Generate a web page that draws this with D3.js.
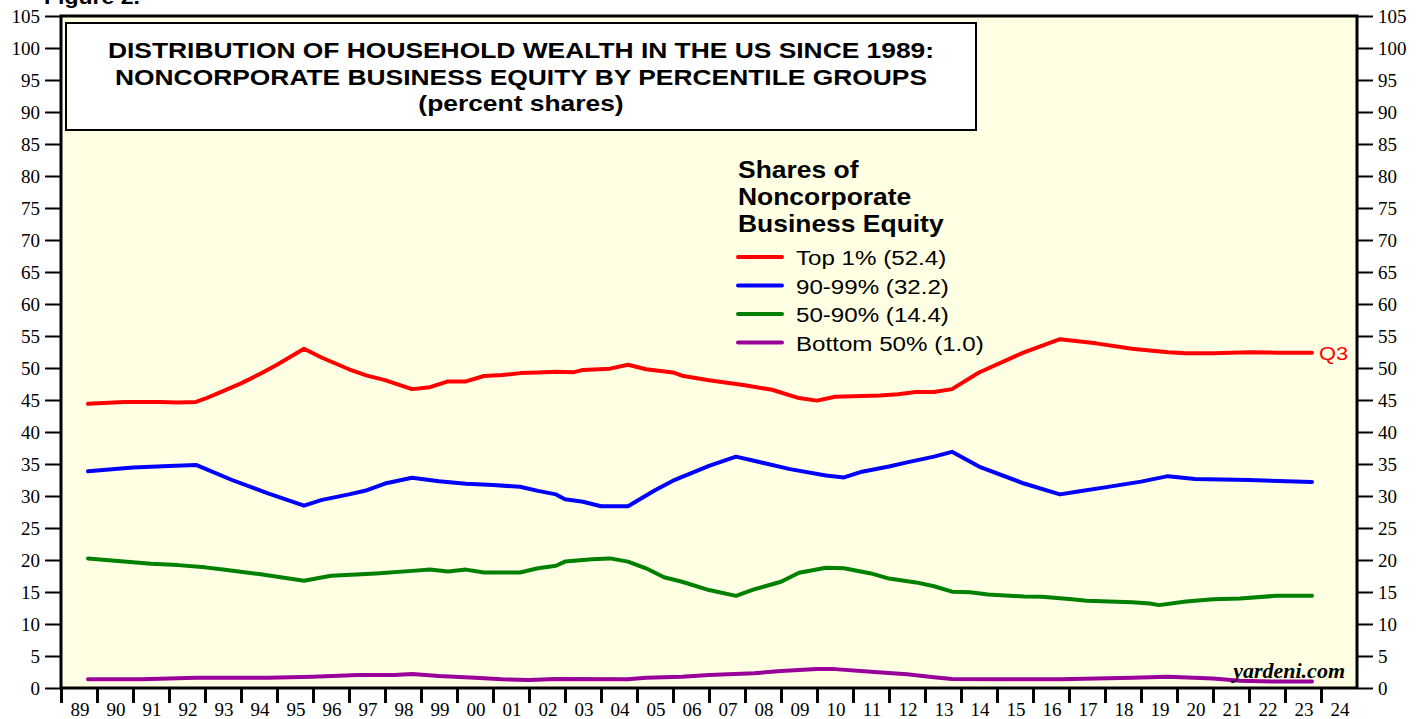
<!DOCTYPE html>
<html>
<head>
<meta charset="utf-8">
<script src="https://cdn.jsdelivr.net/npm/d3@7"></script>
<style>
  body { margin: 0; background: #ffffff; }
  svg { display: block; }
</style>
</head>
<body>
<div id="chart"></div>
<script>
// values, [decimal year, percent share]
var top1Data = [
  [1989.75, 44.4], [1990.75, 44.7], [1991.75, 44.7], [1992.25, 44.6], [1992.75, 44.7],
  [1993.0, 45.2], [1993.5, 46.4], [1994.0, 47.6], [1994.5, 49.0], [1995.0, 50.5],
  [1995.75, 53.0], [1996.25, 51.6], [1997.0, 49.8], [1997.5, 48.8], [1998.0, 48.1],
  [1998.75, 46.7], [1999.25, 47.0], [1999.75, 47.9], [2000.25, 47.9], [2000.75, 48.75],
  [2001.25, 48.9], [2001.75, 49.2], [2002.25, 49.3], [2002.75, 49.4], [2003.25, 49.35],
  [2003.5, 49.7], [2004.25, 49.9], [2004.75, 50.5], [2005.25, 49.8], [2006.0, 49.3],
  [2006.25, 48.8], [2007.0, 48.1], [2007.75, 47.5], [2008.0, 47.3], [2008.75, 46.6],
  [2009.5, 45.3], [2010.0, 44.9], [2010.5, 45.5], [2011.75, 45.7], [2012.25, 45.9],
  [2012.75, 46.25], [2013.25, 46.25], [2013.75, 46.7], [2014.5, 49.3], [2015.75, 52.45],
  [2016.75, 54.5], [2017.75, 53.85], [2018.75, 53.0], [2019.75, 52.45], [2020.25, 52.3],
  [2021.0, 52.3], [2022.0, 52.45], [2022.75, 52.4], [2023.75, 52.4]
];

var p90to99Data = [
  [1989.75, 33.85], [1991.0, 34.45], [1992.0, 34.7], [1992.75, 34.85], [1993.75, 32.5],
  [1994.75, 30.4], [1995.75, 28.5], [1996.25, 29.4], [1997.0, 30.25], [1997.5, 30.9],
  [1998.0, 31.95], [1998.75, 32.85], [1999.5, 32.3], [2000.25, 31.9], [2001.0, 31.7],
  [2001.75, 31.45], [2002.25, 30.8], [2002.75, 30.25], [2003.0, 29.5], [2003.5, 29.1],
  [2004.0, 28.4], [2004.75, 28.4], [2005.5, 30.9], [2006.0, 32.4], [2007.0, 34.7],
  [2007.75, 36.15], [2008.25, 35.5], [2009.25, 34.2], [2010.25, 33.2], [2010.75, 32.9],
  [2011.25, 33.8], [2012.0, 34.6], [2012.5, 35.25], [2013.25, 36.15], [2013.75, 36.9],
  [2014.5, 34.6], [2015.75, 31.95], [2016.75, 30.25], [2017.25, 30.7], [2018.0, 31.35],
  [2019.0, 32.25], [2019.75, 33.1], [2020.5, 32.65], [2022.0, 32.5], [2023.75, 32.2]
];

var p50to90Data = [
  [1989.75, 20.25], [1990.75, 19.75], [1991.5, 19.4], [1992.25, 19.2], [1993.0, 18.85],
  [1993.5, 18.5], [1994.5, 17.8], [1995.75, 16.75], [1996.5, 17.55], [1997.75, 17.9],
  [1998.75, 18.3], [1999.25, 18.5], [1999.75, 18.2], [2000.25, 18.5], [2000.75, 18.05],
  [2001.75, 18.05], [2002.25, 18.7], [2002.75, 19.1], [2003.0, 19.75], [2003.75, 20.1],
  [2004.25, 20.25], [2004.75, 19.75], [2005.25, 18.7], [2005.75, 17.3], [2006.25, 16.6],
  [2007.0, 15.3], [2007.75, 14.4], [2008.25, 15.4], [2009.0, 16.6], [2009.5, 18.0],
  [2010.25, 18.8], [2010.75, 18.7], [2011.5, 17.9], [2012.0, 17.1], [2012.75, 16.5],
  [2013.25, 15.9], [2013.75, 15.05], [2014.25, 14.95], [2014.75, 14.6], [2015.75, 14.3],
  [2016.25, 14.25], [2017.0, 13.9], [2017.5, 13.65], [2018.75, 13.4], [2019.25, 13.2],
  [2019.5, 12.95], [2020.25, 13.5], [2021.0, 13.85], [2021.75, 14.0], [2022.75, 14.4],
  [2023.75, 14.4]
];

var bottom50Data = [
  [1989.75, 1.35], [1991.25, 1.35], [1992.75, 1.6], [1994.75, 1.6], [1996.0, 1.77],
  [1997.25, 2.03], [1998.25, 2.03], [1998.75, 2.2], [1999.5, 1.87], [2000.5, 1.6],
  [2001.25, 1.35], [2002.0, 1.25], [2002.75, 1.4], [2004.75, 1.35], [2005.25, 1.6],
  [2006.25, 1.77], [2007.0, 2.03], [2008.25, 2.3], [2009.0, 2.65], [2010.0, 2.97],
  [2010.5, 2.95], [2011.5, 2.55], [2012.5, 2.14], [2013.25, 1.67], [2013.75, 1.4],
  [2015.0, 1.35], [2016.75, 1.35], [2018.75, 1.6], [2019.75, 1.77], [2021.0, 1.5],
  [2021.75, 1.15], [2022.75, 1.0], [2023.75, 1.0]
];

var seriesNames = ["Top 1% (52.4)", "90-99% (32.2)", "50-90% (14.4)", "Bottom 50% (1.0)"];
var seriesColors = ["#ff0000", "#0000ff", "#008000", "#990099"];
var yTicks = d3.range(0, 106, 5);
var yearTicks = d3.range(1989, 2025);

var svgWidth = 1427;
var svgHeight = 719;
var margin = { top: 16, right: 70, bottom: 31, left: 61 };
var width = svgWidth - margin.left - margin.right;
var height = svgHeight - margin.top - margin.bottom;

var sansFont = "Arial, 'Liberation Sans', sans-serif";
var serifFont = "'Liberation Serif', 'Times New Roman', serif";

var svg = d3.select("#chart")
    .append("svg")
    .attr("width", svgWidth)
    .attr("height", svgHeight);

// figure caption, mostly above the top edge like in the original
svg.append("text")
    .attr("transform", "translate(44, 4) scale(1.15, 1)")
    .style("font-family", sansFont)
    .style("font-weight", "bold")
    .style("font-size", "20px")
    .text("Figure 2.");

var chartGroup = svg.append("g")
    .attr("transform", `translate(${margin.left}, ${margin.top})`);

var xScale = d3.scaleLinear()
    .domain([1989, 2025])
    .range([0, width]);

var yScale = d3.scaleLinear()
    .domain([0, 105])
    .range([height, 0]);

// plot background
chartGroup.append("rect")
    .attr("width", width)
    .attr("height", height)
    .attr("fill", "#ffffe3");

// y axes, left and right
var leftAxis = d3.axisLeft(yScale).tickValues(yTicks).tickSize(15).tickPadding(5);
var rightAxis = d3.axisRight(yScale).tickValues(yTicks).tickSize(15).tickPadding(5);

var leftG = chartGroup.append("g").attr("transform", "translate(-1,0)").call(leftAxis);
var rightG = chartGroup.append("g").attr("transform", `translate(${width + 1},0)`).call(rightAxis);

[leftG, rightG].forEach(function (g) {
    g.select(".domain").remove();
    g.selectAll(".tick line").attr("stroke", "#000").attr("stroke-width", 2);
    g.selectAll(".tick text")
        .style("font-family", serifFont)
        .style("font-size", "19px")
        .attr("fill", "#000");
});

// x axis: ticks on year boundaries, labels in between
var bottomAxis = d3.axisBottom(xScale).tickValues(yearTicks).tickSize(14).tickFormat("");
var xG = chartGroup.append("g")
    .attr("transform", `translate(0, ${height + 1})`)
    .call(bottomAxis);
xG.select(".domain").remove();
xG.selectAll(".tick line").attr("stroke", "#000").attr("stroke-width", 3);

chartGroup.append("g")
    .selectAll("text")
    .data(yearTicks)
    .enter()
    .append("text")
    .attr("x", d => xScale(d + 0.5) + 1)
    .attr("y", height + 28)
    .attr("text-anchor", "middle")
    .style("font-family", serifFont)
    .style("font-size", "19px")
    .text(d => d3.format("02")(d % 100));

// frame
chartGroup.append("rect")
    .attr("width", width)
    .attr("height", height)
    .attr("fill", "none")
    .attr("stroke", "#000")
    .attr("stroke-width", 3);

// title box
var titleBox = chartGroup.append("g").attr("transform", "translate(5, 7)");
titleBox.append("rect")
    .attr("width", 910)
    .attr("height", 107)
    .attr("fill", "#ffffff")
    .attr("stroke", "#000")
    .attr("stroke-width", 2);

var titleLines = [
    "DISTRIBUTION OF HOUSEHOLD WEALTH IN THE US SINCE 1989:",
    "NONCORPORATE BUSINESS EQUITY BY PERCENTILE GROUPS",
    "(percent shares)"
];
titleBox.selectAll("text")
    .data(titleLines)
    .enter()
    .append("text")
    .attr("transform", (d, i) => `translate(455, ${35 + i * 26.5}) scale(1.2, 1)`)
    .attr("text-anchor", "middle")
    .style("font-family", sansFont)
    .style("font-weight", "bold")
    .style("font-size", "22px")
    .text(d => d);

// lines
var line = d3.line()
    .x(d => xScale(d[0]))
    .y(d => yScale(d[1]));

var allSeries = [top1Data, p90to99Data, p50to90Data, bottom50Data];

chartGroup.append("g")
    .selectAll("path")
    .data(allSeries)
    .enter()
    .append("path")
    .attr("d", d => line(d))
    .attr("fill", "none")
    .attr("stroke", (d, i) => seriesColors[i])
    .attr("stroke-width", 4)
    .attr("stroke-linejoin", "round")
    .attr("stroke-linecap", "round");

// Q3 label at the end of the top line
var lastTop = top1Data[top1Data.length - 1];
chartGroup.append("text")
    .attr("transform", `translate(${xScale(lastTop[0]) + 7}, ${yScale(lastTop[1]) + 7}) scale(1.15, 1)`)
    .attr("fill", "#ff0000")
    .style("font-family", sansFont)
    .style("font-size", "19px")
    .text("Q3");

// legend
var legend = chartGroup.append("g").attr("transform", "translate(677, 0)");
["Shares of", "Noncorporate", "Business Equity"].forEach(function (t, i) {
    legend.append("text")
        .attr("transform", `translate(0, ${162 + i * 27}) scale(1.15, 1)`)
        .style("font-family", sansFont)
        .style("font-weight", "bold")
        .style("font-size", "23px")
        .text(t);
});

var legendItems = legend.selectAll(".item")
    .data(seriesNames)
    .enter()
    .append("g")
    .attr("class", "item")
    .attr("transform", (d, i) => `translate(0, ${241 + i * 28.5})`);

legendItems.append("line")
    .attr("x1", 0)
    .attr("x2", 44)
    .attr("stroke", (d, i) => seriesColors[i])
    .attr("stroke-width", 4)
    .attr("stroke-linecap", "round");

legendItems.append("text")
    .attr("transform", "translate(58, 8) scale(1.15, 1)")
    .style("font-family", sansFont)
    .style("font-size", "21px")
    .text(d => d);

// source
chartGroup.append("text")
    .attr("x", width - 12)
    .attr("y", height - 10)
    .attr("text-anchor", "end")
    .style("font-family", serifFont)
    .style("font-weight", "bold")
    .style("font-style", "italic")
    .style("font-size", "22px")
    .text("yardeni.com");
</script>
</body>
</html>
